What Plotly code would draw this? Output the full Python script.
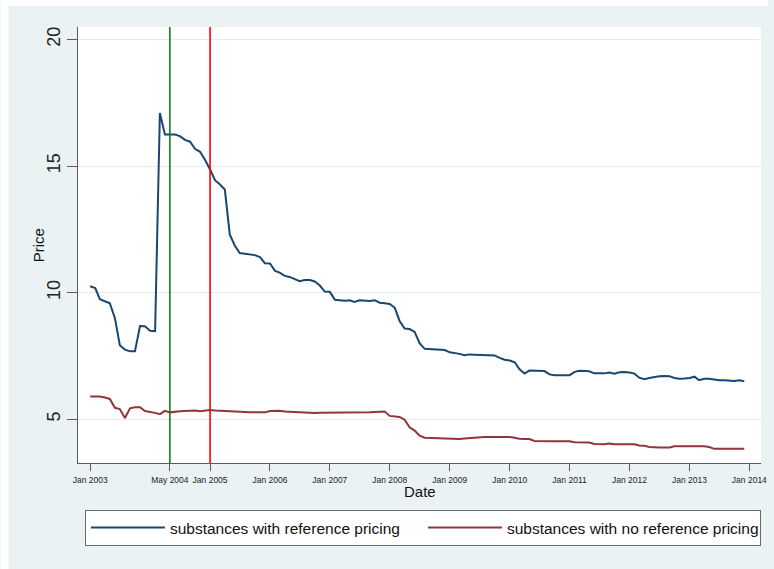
import plotly.graph_objects as go
import pandas as pd

# Monthly average prices, Jan 2003 - Dec 2013
START_MONTH = "2003-01-01"
N_MONTHS = 132
dates = pd.date_range(START_MONTH, periods=N_MONTHS, freq="MS")

ref_pricing = [
    10.25, 10.18, 9.74, 9.66, 9.58, 8.99, 7.92, 7.75, 7.68, 7.68, 8.68, 8.67,
    8.49, 8.48, 17.09, 16.24, 16.24, 16.24, 16.18, 16.03, 15.96, 15.68, 15.56, 15.25,
    14.86, 14.43, 14.28, 14.07, 12.30, 11.85, 11.56, 11.54, 11.51, 11.48, 11.40, 11.16,
    11.15, 10.86, 10.79, 10.66, 10.62, 10.53, 10.45, 10.50, 10.50, 10.44, 10.28, 10.04,
    10.03, 9.72, 9.71, 9.68, 9.70, 9.63, 9.70, 9.68, 9.67, 9.70, 9.60, 9.58,
    9.55, 9.40, 8.88, 8.58, 8.56, 8.45, 8.00, 7.78, 7.77, 7.76, 7.73, 7.73,
    7.64, 7.62, 7.58, 7.53, 7.56, 7.55, 7.54, 7.53, 7.52, 7.52, 7.42, 7.35,
    7.32, 7.25, 6.98, 6.80, 6.92, 6.92, 6.90, 6.90, 6.77, 6.74, 6.74, 6.74,
    6.74, 6.87, 6.91, 6.90, 6.89, 6.81, 6.80, 6.81, 6.84, 6.80, 6.85, 6.86,
    6.84, 6.80, 6.64, 6.58, 6.63, 6.67, 6.70, 6.71, 6.70, 6.63, 6.60, 6.61,
    6.63, 6.68, 6.54, 6.60, 6.60, 6.57, 6.54, 6.54, 6.51, 6.51, 6.54, 6.50,
]

no_ref_pricing = [
    5.90, 5.90, 5.90, 5.86, 5.80, 5.45, 5.40, 5.05, 5.43, 5.47, 5.47, 5.32,
    5.29, 5.25, 5.20, 5.33, 5.27, 5.30, 5.31, 5.32, 5.33, 5.34, 5.31, 5.33,
    5.36, 5.34, 5.33, 5.32, 5.30, 5.28, 5.27, 5.27, 5.27, 5.27, 5.27, 5.27,
    5.32, 5.33, 5.33, 5.30, 5.29, 5.27, 5.26, 5.25, 5.24, 5.24, 5.25, 5.25,
    5.26, 5.26, 5.27, 5.27, 5.26, 5.26, 5.25, 5.26, 5.27, 5.28, 5.30, 5.30,
    5.13, 5.10, 5.09, 4.98, 4.68, 4.55, 4.35, 4.27, 4.26, 4.26, 4.26, 4.25,
    4.22, 4.21, 4.22, 4.24, 4.26, 4.28, 4.30, 4.30, 4.30, 4.30, 4.30, 4.30,
    4.30, 4.27, 4.23, 4.22, 4.22, 4.14, 4.13, 4.13, 4.13, 4.13, 4.13, 4.13,
    4.13, 4.09, 4.08, 4.08, 4.08, 4.02, 4.01, 4.01, 4.04, 4.01, 4.01, 4.01,
    4.01, 4.01, 3.96, 3.95, 3.90, 3.88, 3.88, 3.88, 3.88, 3.93, 3.93, 3.93,
    3.93, 3.93, 3.93, 3.93, 3.90, 3.83, 3.83, 3.83, 3.83, 3.83, 3.83, 3.83,
]

series_names = ["substances with reference pricing", "substances with no reference pricing"]
series_colors = ["#1A476F", "#90353B"]

tick_dates = ["2003-01-01", "2004-05-01", "2005-01-01", "2006-01-01", "2007-01-01",
              "2008-01-01", "2009-01-01", "2010-01-01", "2011-01-01", "2012-01-01",
              "2013-01-01", "2014-01-01"]
tick_labels = ["Jan 2003", "May 2004", "Jan 2005", "Jan 2006", "Jan 2007", "Jan 2008",
               "Jan 2009", "Jan 2010", "Jan 2011", "Jan 2012", "Jan 2013", "Jan 2014"]

# Policy event markers
event_dates = ["2004-05-01", "2005-01-01"]
event_colors = ["#10801A", "#FF0000"]

y_ticks = [5, 10, 15, 20]

FONT = "Liberation Sans, Arial, sans-serif"
PANEL = "#EAF2F3"
AXIS = "#5A5A5A"

fig = go.Figure()
for vals, name, col in zip([ref_pricing, no_ref_pricing], series_names, series_colors):
    fig.add_trace(go.Scatter(x=dates, y=vals, mode="lines", name=name,
                             line=dict(color=col, width=2)))

for d, c in zip(event_dates, event_colors):
    fig.add_shape(type="line", xref="x", yref="paper", x0=d, x1=d, y0=0, y1=1,
                  line=dict(color=c, width=1.6))

# plot area geometry (px)
L, R, T, B = 78, 7, 27, 106
W, H = 774 - L - R, 569 - T - B

# white outer strips around the grey-blue panel
fig.add_shape(type="rect", xref="paper", yref="paper", layer="below",
              x0=-L / W, x1=(8 - L) / W, y0=-B / H, y1=(H + T) / H,
              line_width=0, fillcolor="white")
fig.add_shape(type="rect", xref="paper", yref="paper", layer="below",
              x0=-L / W, x1=(W + R) / W, y0=(H + T - 6) / H, y1=(H + T) / H,
              line_width=0, fillcolor="white")

# axis titles
fig.add_annotation(text="Price", xref="paper", yref="paper",
                   x=(38 - L) / W, y=0.5, xanchor="center", yanchor="middle",
                   textangle=-90, showarrow=False,
                   font=dict(size=15, family=FONT, color="#111111"))
fig.add_annotation(text="Date", xref="paper", yref="paper",
                   x=0.5, y=-(491 - (T + H)) / H, xanchor="center", yanchor="middle",
                   showarrow=False, font=dict(size=15, family=FONT, color="#111111"))

fig.update_layout(
    width=774, height=569,
    margin=dict(l=L, r=R, t=T, b=B, pad=0),
    paper_bgcolor=PANEL, plot_bgcolor="white",
    font=dict(family=FONT, color="#111111"),
    legend=dict(orientation="h", x=(85 - L) / W, xanchor="left",
                y=-(510 - (T + H)) / H, yanchor="top",
                bgcolor="white", bordercolor="#6A6A6A", borderwidth=1,
                font=dict(size=15.5, family=FONT, color="#111111"),
                entrywidth=248, itemwidth=74, traceorder="normal"),
    xaxis=dict(type="date", range=["2002-10-19", "2014-03-13"],
               tickvals=tick_dates, ticktext=tick_labels,
               ticks="outside", ticklen=7, tickwidth=1, tickcolor=AXIS,
               showline=True, linecolor=AXIS, linewidth=1,
               showgrid=False, zeroline=False, ticklabelstandoff=2,
               tickfont=dict(size=8.5, family=FONT, color="#222222")),
    yaxis=dict(range=[3.27, 20.49], tickvals=y_ticks, tickangle=-90,
               ticks="outside", ticklen=10, tickwidth=1, tickcolor=AXIS,
               showline=True, linecolor=AXIS, linewidth=1,
               showgrid=True, gridcolor="#E4ECEF", gridwidth=1, zeroline=False,
               tickfont=dict(size=18, family=FONT, color="#222222")),
)

fig.write_html("out.html")
